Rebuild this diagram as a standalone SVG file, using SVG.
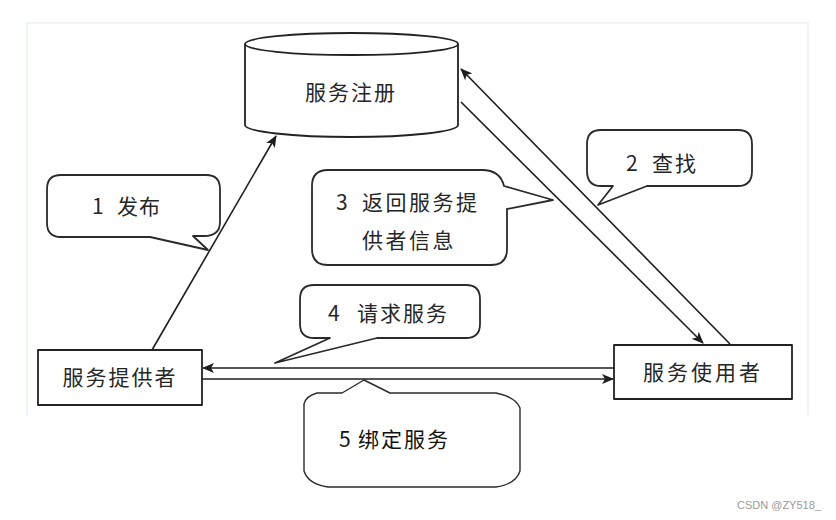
<svg xmlns="http://www.w3.org/2000/svg" width="836" height="520" viewBox="0 0 836 520">
  <style>
    .shape { fill: #ffffff; stroke: #222222; stroke-width: 1.8; stroke-linejoin: round; }
    .callout { fill: #ffffff; stroke: #2a2a2a; stroke-width: 1.8; stroke-linejoin: round; }
    .conn { fill: none; stroke: #1e1e1e; stroke-width: 1.6; }
    .label { font-family: "Noto Sans CJK SC", "Noto Sans", sans-serif; font-size: 21px; fill: #262626; }
    .sans { font-family: "Noto Sans CJK SC", "Noto Sans", sans-serif; font-size: 21px; fill: #111111; }
    .wm { font-family: "Liberation Sans", "DejaVu Sans", sans-serif; font-size: 11px; fill: #9a9a9a; }
  </style>
  <defs>
    <marker id="arrow" viewBox="0 0 12 10" refX="11" refY="5" markerWidth="12" markerHeight="10" markerUnits="userSpaceOnUse" orient="auto">
      <path d="M0,0 L12,5 L0,10 L3,5 Z" fill="#1e1e1e"/>
    </marker>
  </defs>
  <rect x="0" y="0" width="836" height="520" fill="#ffffff"/>
  <path d="M27,415 V23 H808 V415" fill="none" stroke="#eef3f9" stroke-width="2"/>

  <g id="connectors">
    <line class="conn" x1="152" y1="350" x2="276" y2="136" marker-end="url(#arrow)"/>
    <line class="conn" x1="730" y1="344" x2="461" y2="69" marker-end="url(#arrow)"/>
    <line class="conn" x1="461" y1="102" x2="703" y2="343" marker-end="url(#arrow)"/>
    <line class="conn" x1="614" y1="368" x2="203" y2="368" marker-end="url(#arrow)"/>
    <line class="conn" x1="202" y1="379" x2="613" y2="379" marker-end="url(#arrow)"/>
  </g>

  <g id="registry">
    <path class="shape" d="M245,44 V125 A106.5,12 0 0 0 458,125 V44"/>
    <ellipse class="shape" cx="351.5" cy="44" rx="106.5" ry="11"/>
    <text class="label" x="351" y="100" text-anchor="middle" letter-spacing="2">服务注册</text>
  </g>

  <g id="provider">
    <rect class="shape" x="38" y="350" width="164" height="55"/>
    <text class="label" x="120" y="385" text-anchor="middle" letter-spacing="2">服务提供者</text>
  </g>

  <g id="consumer">
    <rect class="shape" x="614" y="345" width="178" height="54"/>
    <text class="label" x="703" y="380" text-anchor="middle" letter-spacing="3">服务使用者</text>
  </g>

  <g id="callout-publish">
    <path class="callout" d="M61,175 H206 Q220,175 220,189 V222 Q220,236 204,236 H193 L208,250 L150,237 H61 Q47,237 47,223 V189 Q47,175 61,175 Z"/>
    <text class="label" x="92" y="214"><tspan>1</tspan><tspan x="117" letter-spacing="1">发布</tspan></text>
  </g>

  <g id="callout-find">
    <path class="callout" d="M601,130 H738 Q752,130 752,144 V171 Q752,186 738,186 H647 L598,205 L613,186 H601 Q587,186 587,171 V144 Q587,130 601,130 Z"/>
    <text class="label" x="626" y="171"><tspan>2</tspan><tspan x="652" letter-spacing="2">查找</tspan></text>
  </g>

  <g id="callout-return">
    <path class="callout" d="M328,170 H482 Q500,170 504,186 L553,200 L507,209 V249 Q507,265 491,265 H328 Q312,265 312,249 V186 Q312,170 328,170 Z"/>
    <text class="label" x="336" y="210"><tspan>3</tspan><tspan x="362" letter-spacing="2.5">返回服务提</tspan></text>
    <text class="label" x="362" y="248" letter-spacing="2.5">供者信息</text>
  </g>

  <g id="callout-request">
    <path class="callout" d="M314,285 H466 Q480,285 480,299 V324 Q480,338 466,338 H377 L275,363 L330,338 H314 Q300,338 300,324 V299 Q300,285 314,285 Z"/>
    <text class="label" x="328" y="321"><tspan>4</tspan><tspan x="357" letter-spacing="2">请求服务</tspan></text>
  </g>

  <g id="callout-bind">
    <path d="M304,404 Q306,396 317,393 H342 L364,380 L390,393 H496 Q516,397 520,408 V471 Q516,484 496,487 H328 Q308,484 304,471 Z" fill="#ffffff" stroke="#2a2a2a" stroke-width="1.4" stroke-linejoin="round"/>
    <text class="sans" x="339" y="447"><tspan>5</tspan><tspan x="358" letter-spacing="2">绑定服务</tspan></text>
  </g>

  <text class="wm" x="737" y="509">CSDN @ZY518_</text>
</svg>
